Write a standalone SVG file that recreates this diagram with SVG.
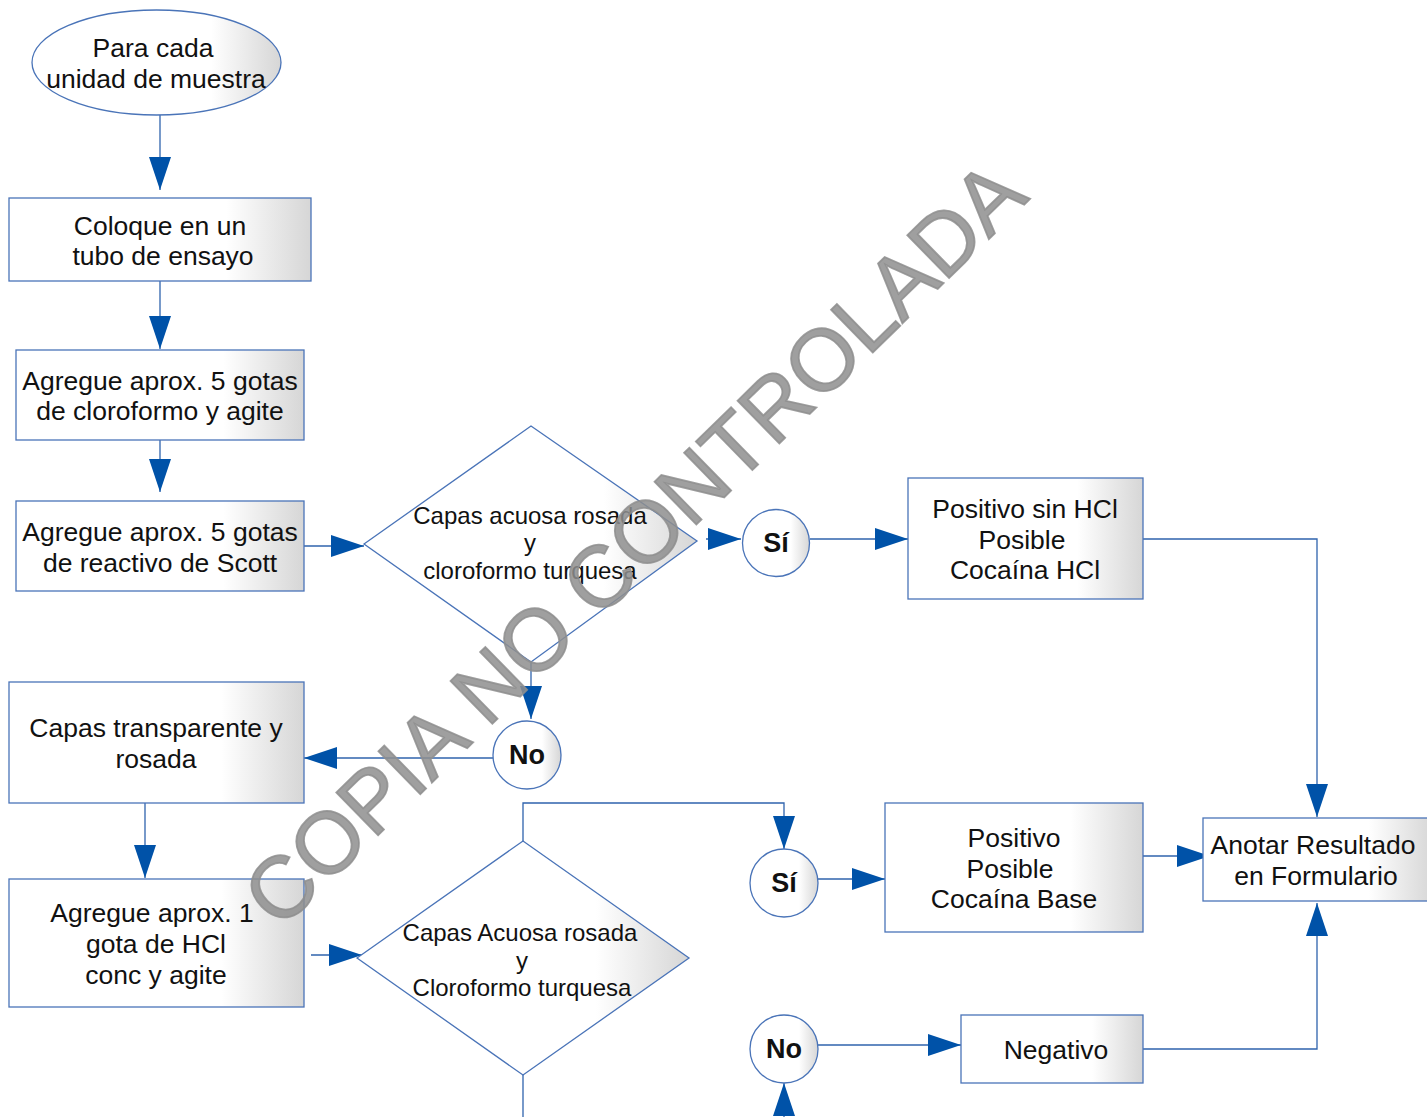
<svg xmlns="http://www.w3.org/2000/svg" width="1427" height="1117" viewBox="0 0 1427 1117">
  <style>
    .shape { stroke: #4a74b8; stroke-width: 1.3; fill: url(#shade); }
    .wire { fill: none; stroke: #2f63ad; stroke-width: 1.3; }
    .lbl { font-family: "Liberation Sans", Arial, sans-serif; font-size: 26.5px; fill: #111; text-anchor: middle; }
    .dlbl { font-family: "Liberation Sans", Arial, sans-serif; font-size: 24px; fill: #111; text-anchor: middle; }
    .clbl { font-family: "Liberation Sans", Arial, sans-serif; font-size: 27px; font-weight: bold; fill: #111; text-anchor: middle; }
    .mark { font-family: "Liberation Sans", Arial, sans-serif; font-size: 87px; fill: #8e8e8e; fill-opacity: 0.85; stroke: #8e8e8e; stroke-opacity: 0.85; stroke-width: 1.8; text-anchor: middle; }
  </style>
  <defs>
    <linearGradient id="shade" x1="0" y1="0" x2="1" y2="0">
      <stop offset="0" stop-color="#ffffff"/>
      <stop offset="0.72" stop-color="#ffffff"/>
      <stop offset="1" stop-color="#d6d6d6"/>
    </linearGradient>
    <marker id="head" markerUnits="userSpaceOnUse" markerWidth="34" markerHeight="24" refX="33" refY="11" orient="auto">
      <path d="M0,0 L33,11 L0,22 Z" fill="#0052a8"/>
    </marker>
  </defs>

  <rect width="1427" height="1117" fill="#ffffff"/>

  <!-- connectors -->
  <g id="connectors">
    <path class="wire" d="M160,115 V190" marker-end="url(#head)"/>
    <path class="wire" d="M160,281 V349" marker-end="url(#head)"/>
    <path class="wire" d="M160,440 V492" marker-end="url(#head)"/>
    <path class="wire" d="M304,546 H364" marker-end="url(#head)"/>
    <path class="wire" d="M706,539 H741" marker-end="url(#head)"/>
    <path class="wire" d="M810,539 H908" marker-end="url(#head)"/>
    <path class="wire" d="M1143,539 H1317 V817" marker-end="url(#head)"/>
    <path class="wire" d="M531,652 V719" marker-end="url(#head)"/>
    <path class="wire" d="M493,758 H304" marker-end="url(#head)"/>
    <path class="wire" d="M145,803 V878" marker-end="url(#head)"/>
    <path class="wire" d="M311,955 H362" marker-end="url(#head)"/>
    <path class="wire" d="M523,841 V803 H784 V849" marker-end="url(#head)"/>
    <path class="wire" d="M818,879 H885" marker-end="url(#head)"/>
    <path class="wire" d="M1137,856 H1210" marker-end="url(#head)"/>
    <path class="wire" d="M523,1075 V1117"/>
    <path class="wire" d="M784,1125 V1083" marker-end="url(#head)"/>
    <path class="wire" d="M818,1045 H961" marker-end="url(#head)"/>
    <path class="wire" d="M1143,1049 H1317 V903" marker-end="url(#head)"/>
  </g>

  <!-- nodes -->
  <g id="start">
    <ellipse class="shape" cx="156.5" cy="62.5" rx="124.5" ry="52.5"/>
    <text class="lbl" x="153" y="57">Para cada</text>
    <text class="lbl" x="156" y="88">unidad de muestra</text>
  </g>

  <g id="tubo">
    <rect class="shape" x="9" y="198" width="302" height="83"/>
    <text class="lbl" x="160" y="235">Coloque en un</text>
    <text class="lbl" x="163" y="265">tubo de ensayo</text>
  </g>

  <g id="cloroformo">
    <rect class="shape" x="16" y="350" width="288" height="90"/>
    <text class="lbl" x="160" y="390">Agregue aprox. 5 gotas</text>
    <text class="lbl" x="160" y="420">de cloroformo y agite</text>
  </g>

  <g id="scott">
    <rect class="shape" x="16" y="501" width="288" height="90"/>
    <text class="lbl" x="160" y="541">Agregue aprox. 5 gotas</text>
    <text class="lbl" x="160" y="572">de reactivo de Scott</text>
  </g>

  <g id="decision1">
    <path class="shape" d="M364,544 L531,426 L697,541 L531,662 Z"/>
    <text class="dlbl" x="530" y="524">Capas acuosa rosada</text>
    <text class="dlbl" x="530" y="551">y</text>
    <text class="dlbl" x="530" y="579">cloroformo turquesa</text>
  </g>

  <g id="si1">
    <circle class="shape" cx="776" cy="543" r="33.5"/>
    <text class="clbl" x="776" y="552">Sí</text>
  </g>

  <g id="hcl">
    <rect class="shape" x="908" y="478" width="235" height="121"/>
    <text class="lbl" x="1025" y="518">Positivo sin HCl</text>
    <text class="lbl" x="1022" y="549">Posible</text>
    <text class="lbl" x="1025" y="579">Cocaína HCl</text>
  </g>

  <g id="no1">
    <circle class="shape" cx="527" cy="755" r="34"/>
    <text class="clbl" x="527" y="764">No</text>
  </g>

  <g id="transparente">
    <rect class="shape" x="9" y="682" width="295" height="121"/>
    <text class="lbl" x="156" y="737">Capas transparente y</text>
    <text class="lbl" x="156" y="768">rosada</text>
  </g>

  <g id="hcl-conc">
    <rect class="shape" x="9" y="879" width="295" height="128"/>
    <text class="lbl" x="152" y="922">Agregue aprox. 1</text>
    <text class="lbl" x="156" y="953">gota de HCl</text>
    <text class="lbl" x="156" y="984">conc y agite</text>
  </g>

  <g id="decision2">
    <path class="shape" d="M357,958 L523,841 L689,958 L523,1075 Z"/>
    <text class="dlbl" x="520" y="941">Capas Acuosa rosada</text>
    <text class="dlbl" x="522" y="969">y</text>
    <text class="dlbl" x="522" y="996">Cloroformo turquesa</text>
  </g>

  <g id="si2">
    <circle class="shape" cx="784" cy="883" r="34"/>
    <text class="clbl" x="784" y="892">Sí</text>
  </g>

  <g id="base">
    <rect class="shape" x="885" y="803" width="258" height="129"/>
    <text class="lbl" x="1014" y="847">Positivo</text>
    <text class="lbl" x="1010" y="878">Posible</text>
    <text class="lbl" x="1014" y="908">Cocaína Base</text>
  </g>

  <g id="anotar">
    <rect class="shape" x="1203" y="818" width="230" height="83"/>
    <text class="lbl" x="1313" y="854">Anotar Resultado</text>
    <text class="lbl" x="1316" y="885">en Formulario</text>
  </g>

  <g id="no2">
    <circle class="shape" cx="784" cy="1049" r="34"/>
    <text class="clbl" x="784" y="1058">No</text>
  </g>

  <g id="negativo">
    <rect class="shape" x="961" y="1015" width="182" height="68"/>
    <text class="lbl" x="1056" y="1059">Negativo</text>
  </g>

  <!-- document stamp -->
  <text class="mark" x="655" y="565" transform="rotate(-44.3 655 565)">COPIA NO CONTROLADA</text>
</svg>
